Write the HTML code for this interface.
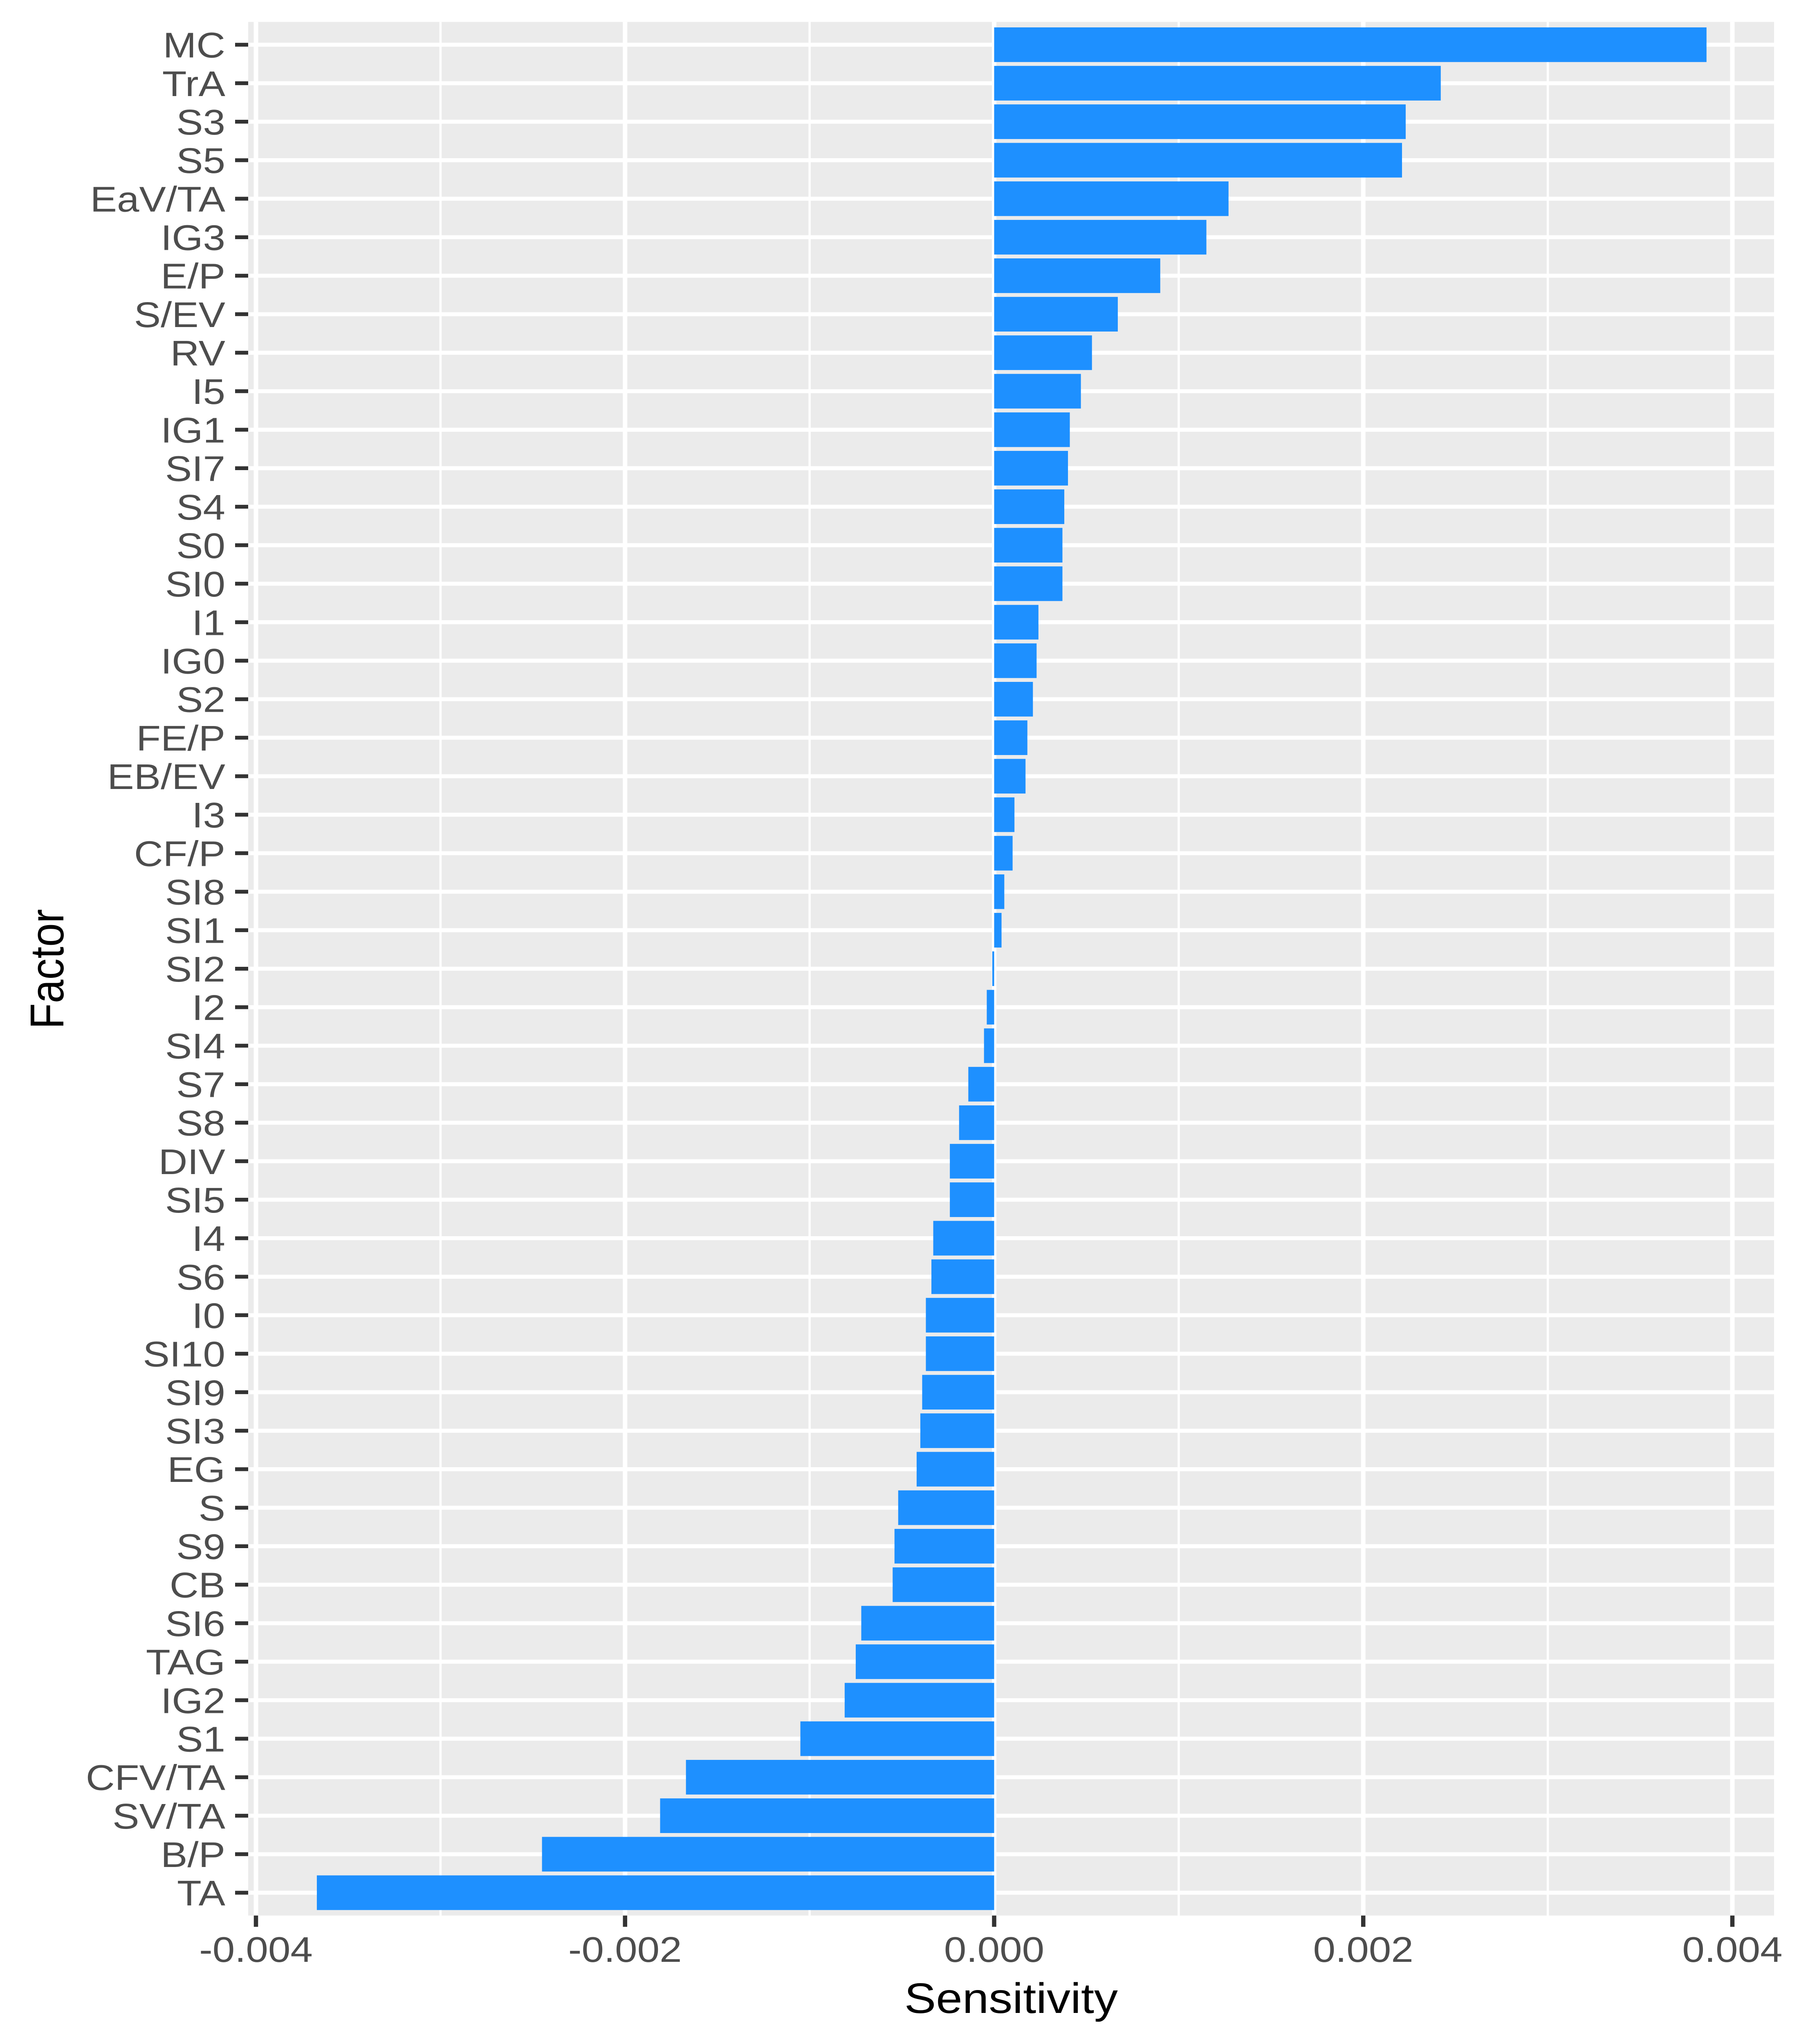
<!DOCTYPE html>
<html><head><meta charset="utf-8"><style>
html,body{margin:0;padding:0;background:#fff;width:100%;height:100%;overflow:hidden;}
svg{display:block;width:100vw;height:100vh;}
text{font-family:"Liberation Sans",Arial,sans-serif;}
</style></head><body>
<svg id="chart" viewBox="0 0 4400 5600" preserveAspectRatio="none" xmlns="http://www.w3.org/2000/svg">
<rect x="0" y="0" width="4400" height="5600" fill="#fff"/>
<g id="panel"></g>
<g id="bars"></g>
<g id="axes"></g>
<text x="2473" y="5515" font-size="116" text-anchor="middle" fill="#000">Sensitivity</text>
<text transform="translate(155,2655) rotate(-90)" font-size="116" text-anchor="middle" fill="#000">Factor</text>
</svg>
<script>
const categories = ["MC","TrA","S3","S5","EaV/TA","IG3","E/P","S/EV","RV","I5","IG1","SI7","S4","S0","SI0","I1","IG0","S2","FE/P","EB/EV","I3","CF/P","SI8","SI1","SI2","I2","SI4","S7","S8","DIV","SI5","I4","S6","I0","SI10","SI9","SI3","EG","S","S9","CB","SI6","TAG","IG2","S1","CFV/TA","SV/TA","B/P","TA"];
const values = [0.00386,0.00242,0.00223,0.00221,0.00127,0.00115,0.00090,0.00067,0.00053,0.00047,0.00041,0.00040,0.00038,0.00037,0.00037,0.00024,0.00023,0.00021,0.00018,0.00017,0.00011,0.00010,0.000055,0.00004,-0.00001,-0.00004,-0.000055,-0.00014,-0.00019,-0.00024,-0.00024,-0.00033,-0.00034,-0.00037,-0.00037,-0.00039,-0.00040,-0.00042,-0.00052,-0.00054,-0.00055,-0.00072,-0.00075,-0.00081,-0.00105,-0.00167,-0.00181,-0.00245,-0.00367];
const xTicks = [-0.004,-0.002,0,0.002,0.004];
const xTickLabels = ["-0.004","-0.002","0.000","0.002","0.004"];
const xMinor = [-0.003,-0.001,0.001,0.003];

const NS="http://www.w3.org/2000/svg";
const PL=607, PR=4339, PT=60, PB=5248;
const X0=2431.5, XS=451375;
function xScale(v){return X0+v*XS;}
const ROW0=122.5, ROWSTEP=(5185.5-122.5)/(categories.length-1);
function yScale(i){return ROW0+i*ROWSTEP;}
function mk(tag,attrs,parent){const e=document.createElementNS(NS,tag);for(const k in attrs)e.setAttribute(k,attrs[k]);parent.appendChild(e);return e;}

const panel=document.getElementById('panel');
const bg=mk('rect',{x:PL,y:PT,width:PR-PL,height:PB-PT,fill:'#ebebeb'},panel);


xMinor.forEach(v=>{
  const l=mk('line',{x1:xScale(v),x2:xScale(v),y1:PT,y2:PB,stroke:'#fff','stroke-width':5.5},panel);
  
  
});
xTicks.forEach(v=>{
  const l=mk('line',{x1:xScale(v),x2:xScale(v),y1:PT,y2:PB,stroke:'#fff','stroke-width':11},panel);
  
  
});
categories.forEach((c,i)=>{
  const l=mk('line',{x1:PL,x2:PR,y1:yScale(i),y2:yScale(i),stroke:'#fff','stroke-width':11},panel);
  
  
});

const bars=document.getElementById('bars');
const BH=ROWSTEP*0.9;
categories.forEach((c,i)=>{
  const v=values[i];
  const x1=Math.min(xScale(0),xScale(v)), w=Math.abs(xScale(v)-xScale(0));
  const r=mk('rect',{x:x1,y:yScale(i)-BH/2,width:Math.max(w,0.5),height:BH,fill:'#1e90ff'},bars);
  
  
});

const axes=document.getElementById('axes');
categories.forEach((c,i)=>{
  const t=mk('line',{x1:575,x2:PL,y1:yScale(i),y2:yScale(i),stroke:'#333','stroke-width':10.5},axes);
  
  
  const tx=mk('text',{x:551,y:yScale(i)+35,'font-size':98,'text-anchor':'end',fill:'#4d4d4d'},axes);
  tx.textContent=c;
  
  
});
xTicks.forEach((v,i)=>{
  const t=mk('line',{x1:xScale(v),x2:xScale(v),y1:PB,y2:5279,stroke:'#333','stroke-width':10.5},axes);
  
  
  const tx=mk('text',{x:xScale(v),y:5375,'font-size':98,'text-anchor':'middle',fill:'#4d4d4d'},axes);
  tx.textContent=xTickLabels[i];
  
  
});
</script>
</body></html>
